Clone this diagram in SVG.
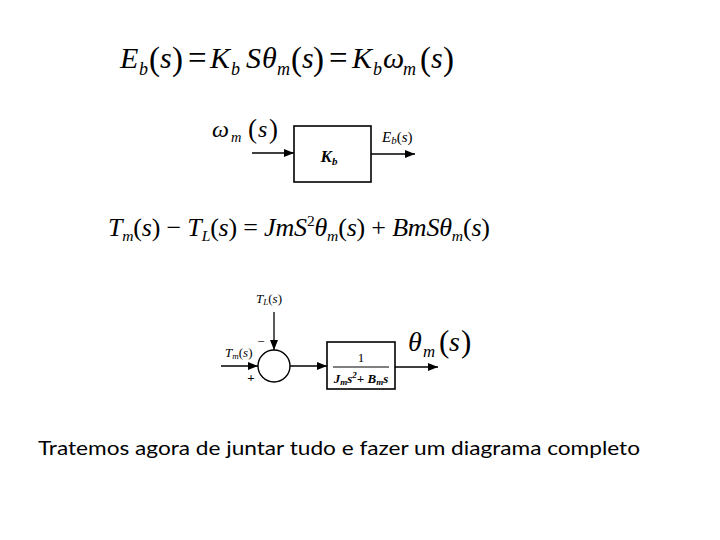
<svg xmlns="http://www.w3.org/2000/svg" width="720" height="540" viewBox="0 0 720 540">
<defs>
<marker id="ah" viewBox="0 0 10 10" refX="10" refY="5" markerWidth="10" markerHeight="10" markerUnits="userSpaceOnUse" orient="auto">
<path d="M0,1 L10,5 L0,9 z" fill="#000"/>
</marker>
<style>
.eq{font-family:"Liberation Serif","DejaVu Serif",serif;font-style:italic;fill:#000}
.up{font-style:normal}
.sub{font-size:60%}
.par{font-style:normal;font-size:33px}
.lbl{font-family:"Liberation Serif","DejaVu Serif",serif;font-style:italic;fill:#000}
.box{fill:#fff;stroke:#000;stroke-width:1.6}
.ln{stroke:#000;stroke-width:1.3;fill:none}
.cap{font-family:"Lato","Open Sans","Liberation Sans",sans-serif;font-size:20px;fill:#000}
</style>
</defs>
<rect width="720" height="540" fill="#fff"/>

<g id="eq1">
<text class="eq" font-size="30" y="68"><tspan x="120">E</tspan><tspan class="sub" x="139" y="75">b</tspan><tspan class="par" x="149" y="70">(</tspan><tspan x="160" y="68">s</tspan><tspan class="par" x="172" y="70">)</tspan><tspan class="par" x="188" y="69">=</tspan><tspan x="210" y="68">K</tspan><tspan class="sub" x="231" y="75">b</tspan><tspan x="246" y="68">S</tspan><tspan x="262">θ</tspan><tspan class="sub" x="277" y="75">m</tspan><tspan class="par" x="291" y="70">(</tspan><tspan x="302" y="68">s</tspan><tspan class="par" x="313" y="70">)</tspan><tspan class="par" x="329" y="69">=</tspan><tspan x="352" y="68">K</tspan><tspan class="sub" x="373" y="75">b</tspan><tspan x="383" y="68">ω</tspan><tspan class="sub" x="403" y="75">m</tspan><tspan class="par" x="420" y="70">(</tspan><tspan x="431" y="68">s</tspan><tspan class="par" x="443" y="70">)</tspan></text>
</g>

<g id="eq2">
<text class="eq" x="108" y="236" font-size="26" textLength="382" lengthAdjust="spacing">T<tspan class="sub" dy="5">m</tspan><tspan class="up" dy="-5">(</tspan>s<tspan class="up">) − </tspan>T<tspan class="sub" dy="5">L</tspan><tspan class="up" dy="-5">(</tspan>s<tspan class="up">) = </tspan>JmS<tspan class="up sub" dy="-10">2</tspan><tspan dy="10">θ</tspan><tspan class="sub" dy="5">m</tspan><tspan class="up" dy="-5">(</tspan>s<tspan class="up">) + </tspan>BmSθ<tspan class="sub" dy="5">m</tspan><tspan class="up" dy="-5">(</tspan>s<tspan class="up">)</tspan></text>
</g>

<g id="connectors">
<line class="ln" x1="252" y1="153" x2="294" y2="153" marker-end="url(#ah)"/>
<line class="ln" x1="371" y1="154" x2="415" y2="154" marker-end="url(#ah)"/>
<line class="ln" x1="274" y1="312" x2="274" y2="350" marker-end="url(#ah)"/>
<line class="ln" x1="221" y1="366" x2="258" y2="366" marker-end="url(#ah)"/>
<line class="ln" x1="290" y1="366" x2="327" y2="366" marker-end="url(#ah)"/>
<line class="ln" x1="395" y1="367" x2="438" y2="367" marker-end="url(#ah)"/>
</g>

<g id="kb">
<rect class="box" x="294" y="126" width="77" height="56"/>
<text x="329" y="162" font-family="Liberation Serif, serif" font-weight="bold" font-style="italic" font-size="17" text-anchor="middle">K<tspan font-size="11" dy="3">b</tspan></text>
</g>

<g id="wm-label">
<text class="lbl" font-size="24" y="137"><tspan x="212">ω</tspan><tspan class="sub" x="231" y="142">m</tspan><tspan class="up" x="248" y="138" font-size="27">(</tspan><tspan x="258" y="137">s</tspan><tspan class="up" x="269" y="138" font-size="27">)</tspan></text>
</g>

<g id="eb-label">
<text class="lbl" x="382" y="142" font-size="15">E<tspan font-size="11" dy="2">b</tspan><tspan class="up" dy="-2">(</tspan>s<tspan class="up">)</tspan></text>
</g>

<g id="tl-label">
<text class="lbl" x="256" y="303" font-size="13">T<tspan font-size="9" dy="2">L</tspan><tspan class="up" dy="-2">(</tspan>s<tspan class="up">)</tspan></text>
</g>

<g id="tm-label">
<text class="lbl" x="225" y="357" font-size="13">T<tspan font-size="9" dy="2">m</tspan><tspan class="up" dy="-2">(</tspan>s<tspan class="up">)</tspan></text>
<text x="261" y="346" font-family="Liberation Serif, serif" font-size="13" text-anchor="middle">−</text>
<text x="251" y="382" font-family="Liberation Serif, serif" font-size="13" font-weight="bold" text-anchor="middle">+</text>
</g>

<g id="sum">
<circle cx="274" cy="366" r="16" fill="#fff" stroke="#000" stroke-width="1.4"/>
</g>

<g id="plant">
<rect class="box" x="327" y="342" width="68" height="47"/>
<text x="361" y="362" font-family="Liberation Serif, serif" font-size="13" text-anchor="middle">1</text>
<line x1="333" y1="367" x2="389" y2="367" stroke="#000" stroke-width="1"/>
<text x="361" y="383" font-family="Liberation Serif, serif" font-weight="bold" font-style="italic" font-size="13" text-anchor="middle">J<tspan font-size="9" dy="2">m</tspan><tspan dy="-2">s</tspan><tspan font-size="9" dy="-5">2</tspan><tspan dy="5">+ B</tspan><tspan font-size="9" dy="2">m</tspan><tspan dy="-2">s</tspan></text>
</g>

<g id="theta-label">
<text class="lbl" font-size="28" y="351"><tspan x="408">θ</tspan><tspan class="sub" x="423" y="357">m</tspan><tspan class="up" x="439" y="352" font-size="31">(</tspan><tspan x="449" y="351">s</tspan><tspan class="up" x="461" y="352" font-size="31">)</tspan></text>
</g>

<g id="caption">
<text class="cap" x="38" y="455" textLength="602" lengthAdjust="spacingAndGlyphs">Tratemos agora de juntar tudo e fazer um diagrama completo</text>
</g>
</svg>
